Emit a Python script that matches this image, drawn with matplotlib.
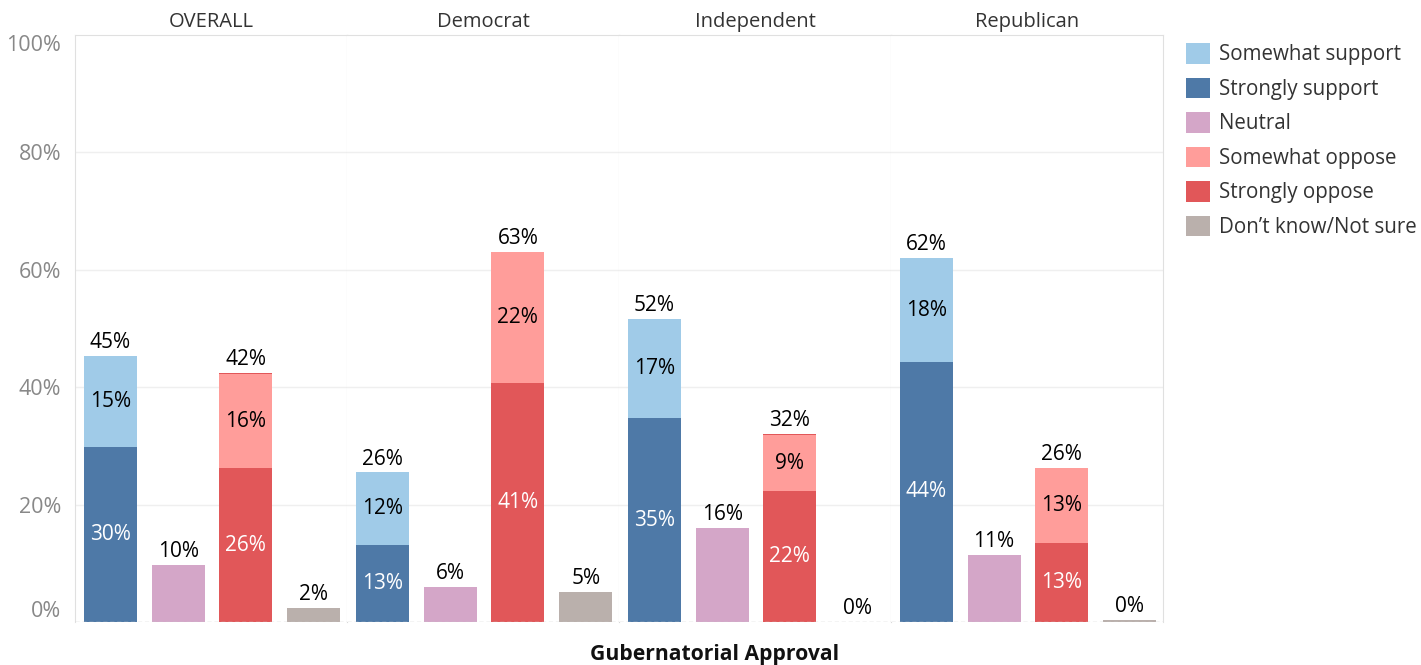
import matplotlib

matplotlib.use("Agg")
import matplotlib.pyplot as plt
from matplotlib.patches import Patch

plt.rcParams["font.family"] = ["Open Sans", "DejaVu Sans"]

# ---- data (percent) ----
groups = ["OVERALL", "Democrat", "Independent", "Republican"]
strongly_support = [29.8, 13.1, 34.7, 44.3]
somewhat_support = [15.6, 12.4, 17.0, 17.7]
neutral = [9.7, 6.0, 16.0, 11.4]
strongly_oppose = [26.2, 40.7, 22.3, 13.4]
somewhat_oppose = [16.0, 22.4, 9.5, 12.8]
oppose_sliver = [0.25, 0.0, 0.25, 0.0]   # thin red edge seen on top of two bars
dont_know = [2.4, 5.1, 0.0, 0.3]

lbl_ss = ["30%", "13%", "35%", "44%"]
lbl_sws = ["15%", "12%", "17%", "18%"]
lbl_sup = ["45%", "26%", "52%", "62%"]
lbl_neu = ["10%", "6%", "16%", "11%"]
lbl_so = ["26%", "41%", "22%", "13%"]
lbl_swo = ["16%", "22%", "9%", "13%"]
lbl_opp = ["42%", "63%", "32%", "26%"]
lbl_dk = ["2%", "5%", "0%", "0%"]

legend_labels = ["Somewhat support", "Strongly support", "Neutral",
                 "Somewhat oppose", "Strongly oppose", "Don\u2019t know/Not sure"]

C_SWS = "#A0CBE8"
C_SS = "#4E79A7"
C_NEU = "#D4A6C8"
C_SWO = "#FF9D9A"
C_SO = "#E15759"
C_DK = "#BAB0AC"
legend_colors = [C_SWS, C_SS, C_NEU, C_SWO, C_SO, C_DK]

FS = 15
W = 0.78

fig = plt.figure(figsize=(14.21, 6.65), dpi=100)
left, right, bottom, top = 75 / 1421, 1163 / 1421, 1 - 622 / 665, 1 - 35 / 665
pw = (right - left) / 4

for i, g in enumerate(groups):
    ax = fig.add_axes([left + i * pw, bottom, pw, top - bottom])
    ax.set_xlim(-0.52, 3.49)
    ax.set_ylim(0, 100)
    for y in (20, 40, 60, 80):
        ax.axhline(y, color="#efefef", lw=1, zorder=0)
    ax.axhline(0, color="#c8c8c8", lw=1, ls=(0, (3, 2)), zorder=3)

    # support stack
    ax.bar(0, strongly_support[i], W, color=C_SS, zorder=2)
    ax.bar(0, somewhat_support[i], W, bottom=strongly_support[i], color=C_SWS, zorder=2)
    # neutral
    ax.bar(1, neutral[i], W, color=C_NEU, zorder=2)
    # oppose stack
    ax.bar(2, strongly_oppose[i], W, color=C_SO, zorder=2)
    ax.bar(2, somewhat_oppose[i], W, bottom=strongly_oppose[i], color=C_SWO, zorder=2)
    if oppose_sliver[i] > 0:
        ax.bar(2, oppose_sliver[i], W, bottom=strongly_oppose[i] + somewhat_oppose[i],
               color=C_SO, zorder=2)
    # don't know
    ax.bar(3, dont_know[i], W, color=C_DK, zorder=2)

    sup_tot = strongly_support[i] + somewhat_support[i]
    opp_tot = strongly_oppose[i] + somewhat_oppose[i] + oppose_sliver[i]
    ax.text(0, strongly_support[i] / 2, lbl_ss[i], ha="center", va="center",
            color="white", fontsize=FS, zorder=4)
    ax.text(0, strongly_support[i] + somewhat_support[i] / 2, lbl_sws[i],
            ha="center", va="center", color="black", fontsize=FS, zorder=4)
    ax.text(2, strongly_oppose[i] / 2, lbl_so[i], ha="center", va="center",
            color="white", fontsize=FS, zorder=4)
    ax.text(2, strongly_oppose[i] + somewhat_oppose[i] / 2, lbl_swo[i],
            ha="center", va="center", color="black", fontsize=FS, zorder=4)
    for x, h, s in ((0, sup_tot, lbl_sup[i]), (1, neutral[i], lbl_neu[i]),
                    (2, opp_tot, lbl_opp[i]), (3, dont_know[i], lbl_dk[i])):
        ax.annotate(s, (x, h), xytext=(0, 2), textcoords="offset points",
                    ha="center", va="bottom", fontsize=FS, color="black", zorder=4)

    ax.set_xticks([])
    for side in ("top", "left", "right"):
        ax.spines[side].set_color("#e0e0e0")
    ax.spines["bottom"].set_visible(False)
    if i > 0:
        ax.spines["left"].set_visible(False)
    if i < 3:
        ax.spines["right"].set_color("#d9d9d9")

    ax.set_title(g, fontsize=14.5, color="#333333", pad=6)

    if i == 0:
        ax.set_yticks([0, 20, 40, 60, 80, 100])
        ax.set_yticklabels(["0%", "20%", "40%", "60%", "80%", "100%"])
        ax.tick_params(axis="y", length=0, labelsize=15.5, labelcolor="#888888", pad=10)
        labs = ax.get_yticklabels()
        labs[0].set_verticalalignment("bottom")
        labs[-1].set_verticalalignment("top")
    else:
        ax.set_yticks([])

fig.text(0.503, 0.0, "Gubernatorial Approval", ha="center", va="bottom",
         fontsize=15.2, fontweight="bold", color="#111111")

handles = [Patch(facecolor=c, edgecolor="none") for c in legend_colors]
fig.legend(handles, legend_labels, loc="upper left", bbox_to_anchor=(1178 / 1421, 1 - 35 / 665),
           frameon=False, fontsize=14.8, handlelength=1.15, handleheight=1.15,
           labelspacing=0.6, handletextpad=0.45, labelcolor="#333333", borderaxespad=0)

fig.savefig("out.png", dpi=100)
